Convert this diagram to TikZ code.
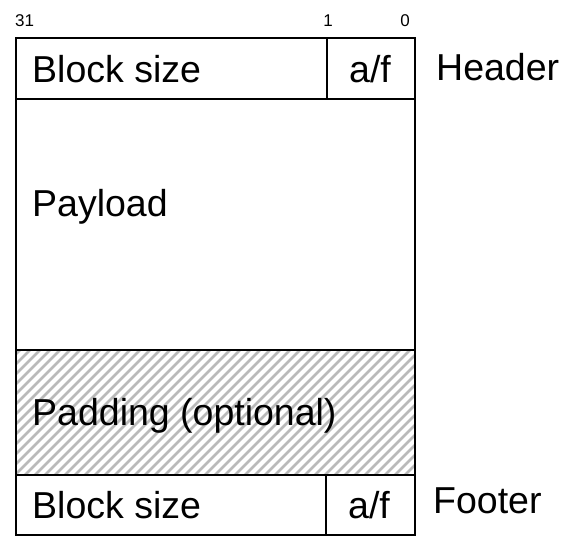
\documentclass[tikz,border=0pt]{standalone}
\usepackage{fontspec}
\setmainfont{Liberation Sans}
\begin{document}
\begin{tikzpicture}[x=1pt,y=-1pt,
  box/.style={draw=black,line width=1.6pt},
  big/.style={font=\fontsize{37.5}{40}\selectfont,inner sep=0pt},
  small/.style={font=\fontsize{17}{19}\selectfont,inner sep=0pt},
  hatch/.style={draw=black!27,line width=2.6pt}]
\useasboundingbox (0,0) rectangle (583,550);
% hatch fill of padding
\begin{scope}
\clip (16,350) rectangle (415,475);
\foreach \i in {-140,-130,...,420}{
  \draw[hatch] (\i,480) -- (\i+135,345);
}
\end{scope}
% boxes
\draw[box] (16,38) rectangle (415,99);
\draw[box] (327,38) -- (327,99);
\draw[box] (16,99) rectangle (415,350);
\draw[box] (16,350) rectangle (415,475);
\draw[box] (16,475) rectangle (415,535);
\draw[box] (326,475) -- (326,535);
% labels
\node[small,anchor=base west] (b31) at (15,26) {31};
\node[small,anchor=base] (b1) at (328,26) {1};
\node[small,anchor=base] (b0) at (405,26) {0};
\node[big,anchor=base west] (hbs) at (32,82) {Block size};
\node[big,anchor=base] (haf) at (370,82) {a/f};
\node[big,anchor=base west] (hdr) at (436,80) {Header};
\node[big,anchor=base west] (pay) at (32,216) {Payload};
\node[big,anchor=base west] (pad) at (32,425) {Padding (optional)};
\node[big,anchor=base west] (fbs) at (32,518) {Block size};
\node[big,anchor=base] (faf) at (369,518) {a/f};
\node[big,anchor=base west] (ftr) at (433,513) {Footer};
\end{tikzpicture}
\end{document}
